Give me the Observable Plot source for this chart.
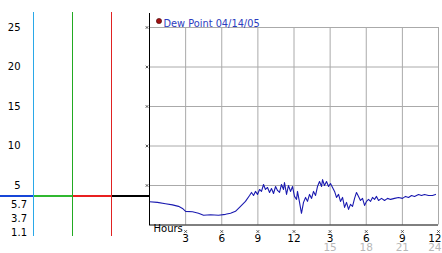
<!DOCTYPE html>
<html><head><meta charset="utf-8">
<script src="https://cdn.jsdelivr.net/npm/d3@7"></script>
<script src="https://cdn.jsdelivr.net/npm/@observablehq/plot@0.6"></script>
<style>
html,body{margin:0;padding:0;background:#fff;}
#chart svg{display:block;}
</style></head><body><div id="chart"></div>
<script>
const hours = [0,0.66,1.33,1.91,2.41,2.74,3.0,3.57,4.07,4.49,5.07,5.73,6.31,6.73,7.14,7.56,7.97,8.31,8.47,8.64,8.80,8.97,9.14,9.30,9.47,9.63,9.80,9.97,10.13,10.30,10.47,10.63,10.80,10.96,11.13,11.21,11.38,11.54,11.71,11.88,12.04,12.21,12.29,12.46,12.62,12.79,12.96,13.12,13.29,13.46,13.62,13.79,13.95,14.12,14.29,14.37,14.53,14.70,14.87,15.03,15.2,15.37,15.53,15.70,15.86,16.03,16.20,16.36,16.53,16.69,16.86,17.03,17.19,17.36,17.52,17.69,17.86,18.02,18.19,18.36,18.52,18.69,18.85,19.02,19.27,19.52,19.77,20.02,20.35,20.68,21.01,21.26,21.51,21.76,22.01,22.34,22.59,22.84,23.17,23.5,23.75];
const dewPoint = [2.95,2.86,2.7,2.55,2.36,2.1,1.73,1.67,1.48,1.23,1.29,1.23,1.35,1.48,1.73,2.36,2.99,3.74,4.12,3.74,4.25,3.87,4.5,4.25,5.13,4.5,4.75,4.12,4.62,3.99,4.87,4.37,4.12,5.13,4.5,5.38,3.87,5.0,4.25,4.87,3.62,3.24,4.25,2.86,1.48,2.86,3.49,2.99,3.87,3.37,4.25,3.74,4.87,5.5,4.87,5.75,5.0,5.5,4.87,5.25,4.75,4.25,3.49,3.87,2.99,3.49,2.23,2.86,1.98,2.61,2.36,3.37,4.12,3.62,3.11,3.37,2.48,2.99,3.24,2.99,3.49,3.24,3.62,3.11,3.37,3.11,3.37,3.24,3.37,3.49,3.37,3.62,3.49,3.74,3.62,3.87,3.74,3.87,3.74,3.74,3.87];
const yTicks = [5,10,15,20,25];
const xTicks = [3,6,9,12,15,18,21,24];
const xTickLabels = ["3","6","9","12","3","6","9","12"];
const xTicks24 = [15,18,21,24];
const xTickLabels24 = ["15","18","21","24"];
const statLabels = ["5.7","3.7","1.1"]; // max, current, min
const currentValue = 3.7;
const seriesName = "Dew Point 04/14/05";
const xAxisLabel = "Hours";

const data = hours.map((h,i)=>({h, v: dewPoint[i]}));
const font = "DejaVu Sans";
const xMax = 24;
const isLast = d => d === xMax;

const plot = Plot.plot({
  width: 442, height: 253,
  marginLeft: 149, marginRight: 4, marginTop: 27, marginBottom: 28.5,
  x: {domain: [0,24], axis: null},
  y: {domain: [0,25], axis: null},
  style: {fontFamily: font, fontSize: "9.5px", background: "#fff", overflow: "visible"},
  marks: [
    Plot.ruleY(yTicks, {stroke: "#aaa"}),
    Plot.ruleX(xTicks, {stroke: "#aaa"}),
    Plot.line(data, {x: "h", y: "v", stroke: "#1a1ab0", strokeWidth: 1.1}),
    Plot.ruleY([0], {stroke: "#000"}),
    Plot.text(yTicks, {y: d=>d, frameAnchor: "left", text: d=>String(d), textAnchor: "end", dx: -129, fill: "#000", fontSize: 10}),
    Plot.dot(yTicks, {y: d=>d, frameAnchor: "left", dx: -2.5, symbol: "times", r: 1.3, stroke: "#333", strokeWidth: 0.8}),
    Plot.dot(xTicks, {x: d=>d, y: ()=>0, dy: 6.5, symbol: "times", r: 1.3, stroke: "#333", strokeWidth: 0.8}),
    Plot.text(xTicks, Plot.filter((d)=>!isLast(d), {x: d=>d, y: ()=>0, text: (d,i)=>xTickLabels[i], dy: 13.5, textAnchor: "middle", fill: "#000", fontSize: 10.5})),
    Plot.text(xTicks, Plot.filter((d)=>isLast(d), {x: d=>d, y: ()=>0, text: (d,i)=>xTickLabels[i], dy: 13.5, dx: 3, textAnchor: "end", fill: "#000", fontSize: 10.5})),
    Plot.text(xTicks24, Plot.filter((d)=>!isLast(d), {x: d=>d, y: ()=>0, text: (d,i)=>xTickLabels24[i], dy: 23, textAnchor: "middle", fill: "#b8b8b8", fontSize: 10.5})),
    Plot.text(xTicks24, Plot.filter((d)=>isLast(d), {x: d=>d, y: ()=>0, text: (d,i)=>xTickLabels24[i], dy: 23, dx: 3, textAnchor: "end", fill: "#b8b8b8", fontSize: 10.5})),
    Plot.text([xAxisLabel], {frameAnchor: "bottom-left", text: d=>d, textAnchor: "start", dx: 4, dy: 6.5, fill: "#000", fontSize: 10}),
    Plot.dot([seriesName], {frameAnchor: "top-left", dx: 9.5, dy: -6.5, r: 2.6, fill: "#a01010", stroke: "#400", strokeWidth: 0.6}),
    Plot.text([seriesName], {frameAnchor: "top-left", text: d=>d, textAnchor: "start", dx: 14, dy: -7.5, fill: "#2b3cc0", fontSize: 9.8})
  ]
});
document.getElementById("chart").appendChild(plot);

// layout decorations in the left panel
const svg = d3.select(plot);
const xs = plot.scale("x"), ys = plot.scale("y");
const x0 = xs.apply(0) + 0.5;
const yCur = Math.round(ys.apply(currentValue)) + 0.5;
const g = svg.append("g").attr("shape-rendering", "crispEdges");
const cols = [{x:33.5,c:"#2aa8e8",h:"#1646d8"},{x:72.5,c:"#22aa22",h:"#30b830"},{x:111.5,c:"#e02222",h:"#e82020"}];
let prev = 0;
cols.forEach(d=>{
  g.append("line").attr("x1",prev).attr("x2",d.x).attr("y1",yCur).attr("y2",yCur).attr("stroke",d.h).attr("stroke-width",2);
  prev = d.x;
});
g.append("line").attr("x1",prev).attr("x2",x0).attr("y1",yCur).attr("y2",yCur).attr("stroke","#000").attr("stroke-width",2);
cols.forEach(d=>{
  g.append("line").attr("x1",d.x).attr("x2",d.x).attr("y1",12).attr("y2",236).attr("stroke",d.c).attr("stroke-width",1);
});
g.append("line").attr("x1",x0).attr("x2",x0).attr("y1",13).attr("y2",ys.apply(0)+0.5).attr("stroke","#000").attr("stroke-width",1);
statLabels.forEach((s,i)=>{
  g.append("text").attr("x",27).attr("y",208+i*14).attr("text-anchor","end")
   .attr("font-family",font).attr("font-size",10).attr("fill","#000").text(s);
});
</script></body></html>
